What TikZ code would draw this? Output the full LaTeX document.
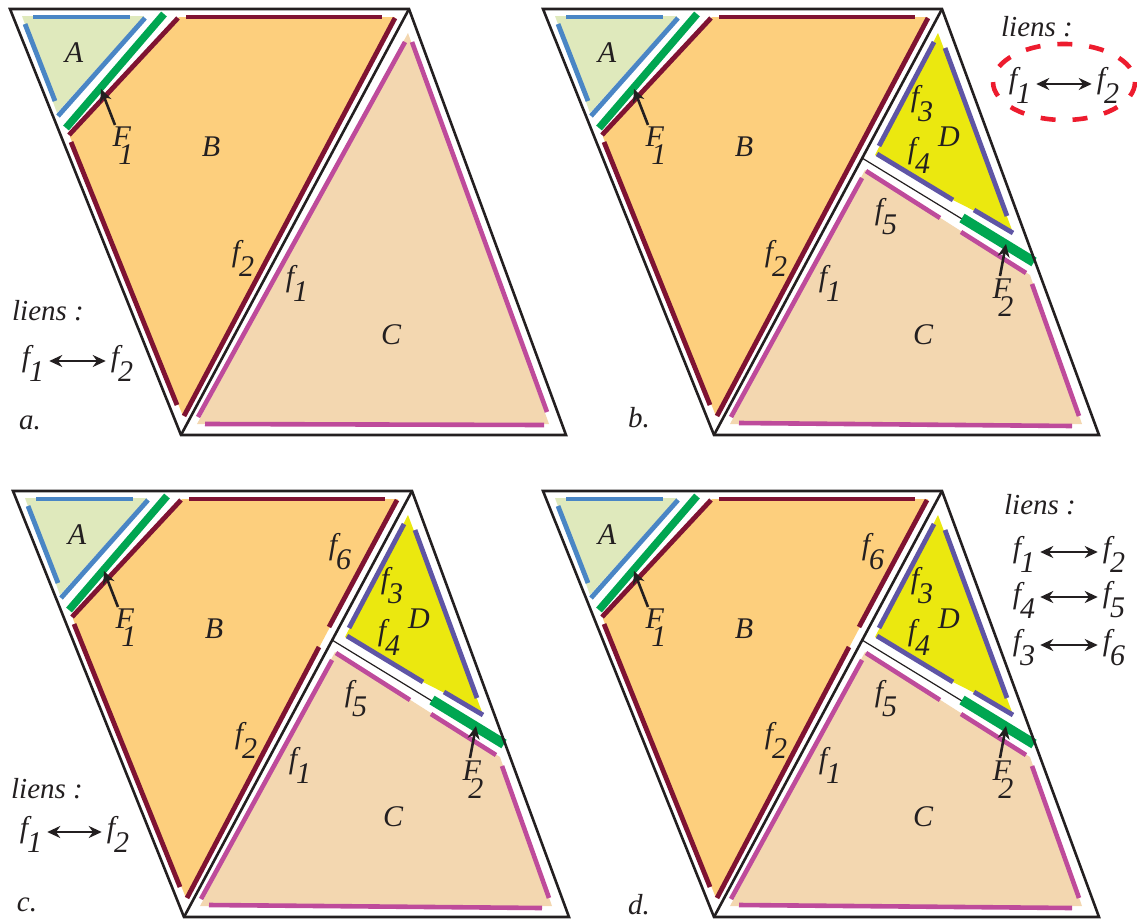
\documentclass[tikz,border=0pt]{standalone}
\usepackage{fontspec}
\setmainfont{Liberation Serif}
\usetikzlibrary{arrows.meta}
\definecolor{cA}{HTML}{DFE9BC}
\definecolor{cB}{HTML}{FDCF7D}
\definecolor{cC}{HTML}{F3D7B0}
\definecolor{cD}{HTML}{EBE80F}
\definecolor{eblue}{HTML}{4A86C5}
\definecolor{egreen}{HTML}{00A651}
\definecolor{edark}{HTML}{7F1332}
\definecolor{emag}{HTML}{BE4B9B}
\definecolor{eviol}{HTML}{5F55A5}
\definecolor{ered}{HTML}{ED1C2E}
\definecolor{ink}{HTML}{231F20}
\newcommand{\sub}[2]{#1\kern0.06em\raisebox{-0.5em}{\kern-0.1em #2}}
\newcommand{\subF}[2]{#1\kern-0.42em\raisebox{-0.6em}{#2}}
\tikzset{
  outline/.style={draw=ink,line width=2.6pt,line join=miter},
  thin line/.style={draw=ink,line width=1.2pt},
  edgeblue/.style={draw=eblue,line width=4.8pt},
  edgegreen/.style={draw=egreen,line width=7.5pt},
  edgegreenb/.style={draw=egreen,line width=10pt},
  edgedark/.style={draw=edark,line width=4.8pt},
  edgemag/.style={draw=emag,line width=4.6pt},
  edgeviol/.style={draw=eviol,line width=4.8pt},
  lab/.style={inner sep=0pt,text=ink,font=\fontsize{30}{33}\selectfont\itshape},
  labs/.style={inner sep=0pt,text=ink,font=\fontsize{29}{32}\selectfont\itshape},
  pointer/.style={draw=ink,line width=2.6pt,-{Stealth[length=13pt,width=12pt]}},
  link/.style={draw=ink,line width=2.6pt,{Stealth[length=13pt,width=12pt]}-{Stealth[length=13pt,width=12pt]}},
}
% #1 = name prefix
\newcommand{\partsAB}[1]{
  \fill[cA] (22,16) -- (144,16) -- (57,113) -- cycle;
  \fill[cB] (179,17) -- (395,17) -- (183,416) -- (70,137) -- cycle;
  \draw[edgeblue] (33,17) -- (130,17);
  \draw[edgeblue] (25,24) -- (55,101);
  \draw[edgeblue] (58,116) -- (145,18);
  \draw[edgegreen] (66,128) -- (164,14);
  \draw[edgedark] (69,135) -- (178,18);
  \draw[edgedark] (186,17) -- (382,17);
  \draw[edgedark] (71,142) -- (177,405);
  \node[lab] (#1A) at (74,53) {A};
  \node[lab] (#1B) at (211,147) {B};
  \node[lab] (#1F) at (123,146) {\subF{F}{1}};
  \coordinate (#1Ft) at (101,89);
  \draw[pointer] (#1F.north) ++(-8,-2) coordinate (#1Fs) (#1Fs) -- (#1Ft);
  \node[lab] (#1ftwo) at (243,258) {\sub{f}{2}};
}
\newcommand{\outlineall}{
  \draw[outline] (10,9) -- (409,9) -- (566,435) -- (181,435) -- cycle;
  \draw[outline] (409,9) -- (181,435);
}
\newcommand{\cutparts}[1]{
  \fill[cC] (332,170) -- (497,275) -- (549,424) -- (197,424) -- cycle;
  \fill[cD] (405,33) -- (342,155) -- (420,200) -- (479,230) -- cycle;
  \draw[edgeviol] (401,42) -- (346,146);
  \draw[edgeviol] (412,48) -- (474,216);
  \draw[edgeviol] (344,154) -- (420,200);
  \draw[edgeviol] (441,210) -- (480,233);
  \draw[thin line] (329,158) -- (429,219);
  \draw[edgegreenb] (429,218) -- (501,262);
  \draw[edgemag] (333,171) -- (407,218);
  \draw[edgemag] (428,232) -- (493,273);
  \draw[edgemag] (329,178) -- (198,417);
  \draw[edgemag] (499,284) -- (546,416);
  \draw[edgemag] (206,423) -- (539,426);
  \node[lab] (#1D) at (416,137) {D};
  \node[lab] (#1C) at (390,335) {C};
  \node[lab] (#1fthree) at (389,104) {\sub{f}{3}};
  \node[lab] (#1ffour) at (386,155) {\sub{f}{4}};
  \node[lab] (#1ffive) at (353,217) {\sub{f}{5}};
  \node[lab] (#1fone) at (297,283) {\sub{f}{1}};
  \node[lab] (#1E) at (470,298) {\subF{F}{2}};
  \coordinate (#1Et) at (473,244);
  \draw[pointer] (#1E.north) ++(-3,-3) coordinate (#1Es) (#1Es) -- (#1Et);
}
\begin{document}
\begin{tikzpicture}[x=1pt,y=-1pt]
\useasboundingbox (0,0) rectangle (1137,918);
% panel a
\begin{scope}
  \partsAB{a}
  \draw[edgedark] (395,18) -- (184,416);
  \fill[cC] (408,33) -- (549,424) -- (197,424) -- cycle;
  \draw[edgemag] (405,42) -- (198,417);
  \draw[edgemag] (412,42) -- (547,412);
  \draw[edgemag] (205,424) -- (544,425);
  \outlineall
  \node[lab] (aC) at (391,335) {C};
  \node[lab] (afone) at (297,283) {\sub{f}{1}};
  \node[labs] (aliens) at (48,311) {liens :};
  \node[lab] (alf1) at (33,363) {\sub{f}{1}};
  \node[lab] (alf2) at (122,363) {\sub{f}{2}};
  \draw[link] (alf1.east |- 0,361) ++(5,0) coordinate (ala) (alf2.west |- 0,361) ++(-5,0) coordinate (alb) (ala) -- (alb);
  \node[labs] (atag) at (30,423) {a.};
\end{scope}
% panel b
\begin{scope}[shift={(533,0)}]
  \partsAB{b}
  \draw[edgedark] (395,18) -- (184,416);
  \cutparts{b}
  \outlineall
  \node[labs] (btag) at (106,418) {b.};
\end{scope}
\node[labs] (bliens) at (1037,27) {liens :};
\node[lab] (blf1) at (1020,85) {\sub{f}{1}};
\node[lab] (blf2) at (1108,85) {\sub{f}{2}};
\draw[link] (blf1.east |- 0,84) ++(5,0) coordinate (bla) (blf2.west |- 0,84) ++(-5,0) coordinate (blb) (bla) -- (blb);
\draw[draw=ered,line width=4.6pt,dash pattern=on 15pt off 17pt] (1064,82) ellipse [x radius=71,y radius=38];
% panel c
\begin{scope}[shift={(3,482)}]
  \partsAB{c}
  \draw[edgedark] (394,18) -- (326,145);
  \draw[edgedark] (316,165) -- (184,416);
  \cutparts{c}
  \outlineall
  \node[lab] (cfsix) at (337,70) {\sub{f}{6}};
\end{scope}
\node[labs] (cliens) at (47,789) {liens :};
\node[lab] (clf1) at (31,834) {\sub{f}{1}};
\node[lab] (clf2) at (118,834) {\sub{f}{2}};
\draw[link] (clf1.east |- 0,832) ++(5,0) coordinate (cla) (clf2.west |- 0,832) ++(-5,0) coordinate (clb) (cla) -- (clb);
\node[labs] (ctag) at (27,905) {c.};
% panel d
\begin{scope}[shift={(533,482)}]
  \partsAB{d}
  \draw[edgedark] (394,18) -- (326,145);
  \draw[edgedark] (316,165) -- (184,416);
  \cutparts{d}
  \outlineall
  \node[lab] (dfsix) at (340,70) {\sub{f}{6}};
\end{scope}
\node[labs] (dliens) at (1040,505) {liens :};
\node[lab] (d1a) at (1024,554) {\sub{f}{1}};
\node[lab] (d1b) at (1114,554) {\sub{f}{2}};
\draw[link] (d1a.east |- 0,552) ++(5,0) coordinate (d1s) (d1b.west |- 0,552) ++(-5,0) coordinate (d1e) (d1s) -- (d1e);
\node[lab] (d2a) at (1024,600) {\sub{f}{4}};
\node[lab] (d2b) at (1114,600) {\sub{f}{5}};
\draw[link] (d2a.east |- 0,597) ++(5,0) coordinate (d2s) (d2b.west |- 0,597) ++(-5,0) coordinate (d2e) (d2s) -- (d2e);
\node[lab] (d3a) at (1024,648) {\sub{f}{3}};
\node[lab] (d3b) at (1114,648) {\sub{f}{6}};
\draw[link] (d3a.east |- 0,645) ++(5,0) coordinate (d3s) (d3b.west |- 0,645) ++(-5,0) coordinate (d3e) (d3s) -- (d3e);
\node[labs] (dtag) at (639,905) {d.};
\end{tikzpicture}
\end{document}
